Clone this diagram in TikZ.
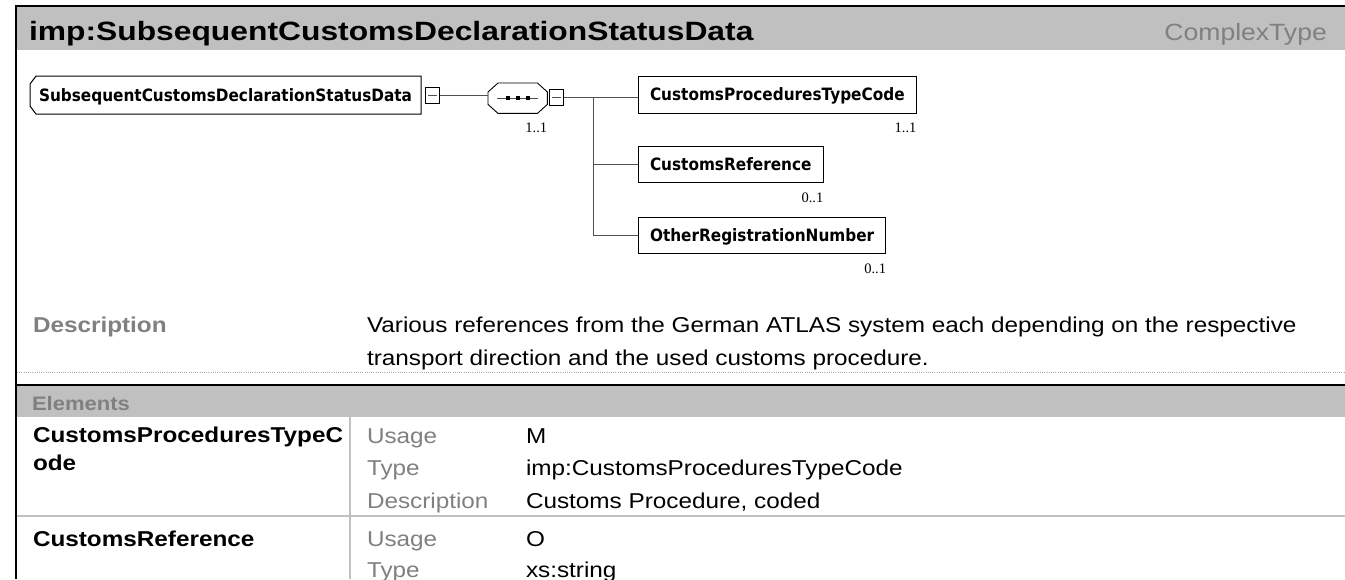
\documentclass[tikz,border=0pt]{standalone}
\usepackage{fontspec}
\newfontfamily\arialf[FakeStretch=1.13]{Liberation Sans}
\newfontfamily\titlef[FakeStretch=1.2]{Liberation Sans}
\newfontfamily\nodef[FakeStretch=0.9]{DejaVu Sans}
\newfontfamily\labf{Liberation Serif}
\usetikzlibrary{calc}
\definecolor{barGray}{HTML}{C0C0C0}
\definecolor{txtGray}{HTML}{808080}
\definecolor{sepGray}{HTML}{C0C0C0}
\definecolor{dotGray}{HTML}{A8A8A8}
\definecolor{connGray}{HTML}{505050}
\begin{document}
\begin{tikzpicture}[x=1pt,y=-1pt,
  txt/.style={anchor=base west, inner sep=0pt, outer sep=0pt},
  big/.style={font=\arialf\fontsize{21.5}{24}\selectfont},
  bigb/.style={font=\arialf\bfseries\fontsize{21.5}{24}\selectfont},
  elbox/.style={draw=black, line width=1pt, inner xsep=11.5pt, inner ysep=0pt,
    minimum height=37pt, text height=12.4pt, text depth=0pt,
    font=\nodef\bfseries\fontsize{17}{20}\selectfont, anchor=north west},
  boxline/.style={draw=black, line width=1pt},
  minusbox/.style={draw=black, line width=0.8pt, minimum width=14pt, minimum height=16pt,
    inner sep=0pt, anchor=north west},
  minusbar/.style={draw=connGray, line width=0.8pt},
  conn/.style={draw=connGray, line width=1pt},
  mult/.style={inner sep=0pt, anchor=base east, font=\labf\fontsize{14.5}{16}\selectfont},
  frame/.style={draw=black, line width=2pt},
  sep/.style={draw=sepGray, line width=2pt}]
\useasboundingbox (0,0) rectangle (1345,579);
\fill[white] (0,0) rectangle (1345,579);
% title bar
\fill[barGray] (17,7) rectangle (1345,50);
\draw[frame] (16,579) -- (16,6) -- (1345,6);
\node[txt, font=\titlef\bfseries\fontsize{26.5}{29}\selectfont] (title) at (29,40.5)
  {imp:SubsequentCustomsDeclarationStatusData};
\node[anchor=base east, inner sep=0pt, text=txtGray, font=\arialf\fontsize{23.5}{26}\selectfont]
  (ctype) at (1327,40.5) {ComplexType};
% diagram: root element
\node[elbox, draw=none, inner xsep=8.5pt] (root) at (30,76) {SubsequentCustomsDeclarationStatusData};
\draw[boxline] ([xshift=6pt]root.north west) -- (root.north east) -- (root.south east)
  -- ([xshift=6pt]root.south west) -- ([yshift=8pt]root.south west)
  -- ([yshift=-8pt]root.north west) -- cycle;
\node[minusbox] (rm) at (425,87) {};
\draw[minusbar] ([xshift=3pt]rm.west) -- ([xshift=-3pt]rm.east);
% sequence compositor
\node[draw=none, minimum width=59pt, minimum height=30pt, inner sep=0pt, anchor=north west]
  (comp) at (488,83) {};
\draw[boxline, line width=0.9pt] ([xshift=10pt]comp.north west) -- ([xshift=-10pt]comp.north east)
  -- ([yshift=-9pt]comp.north east) -- ([yshift=9pt]comp.south east)
  -- ([xshift=-10pt]comp.south east) -- ([xshift=10pt]comp.south west)
  -- ([yshift=9pt]comp.south west) -- ([yshift=-9pt]comp.north west) -- cycle;
\draw[conn] ([xshift=9pt]comp.west) -- ([xshift=-9pt]comp.east);
\foreach \dx in {-10,0,10} {
  \fill[black] ($(comp.center)+(\dx-1.8,-1.8)$) rectangle ($(comp.center)+(\dx+1.8,1.8)$);
}
\node[minusbox] (cm) at (549,89) {};
\draw[minusbar] ([xshift=3pt]cm.west) -- ([xshift=-3pt]cm.east);
\node[mult] (mcomp) at ($(comp.south east)+(0,19)$) {1..1};
\draw[conn] (rm.east) -- (rm.east -| comp.west);
% children
\node[elbox] (cptc) at (638,75.5) {CustomsProceduresTypeCode};
\node[elbox, minimum height=36pt] (cref) at (638,146) {CustomsReference};
\node[elbox, minimum height=36pt] (orn) at (638,217) {OtherRegistrationNumber};
\node[mult] (mcptc) at ($(cptc.south east)+(0,19)$) {1..1};
\node[mult] (mcref) at ($(cref.south east)+(0,19)$) {0..1};
\node[mult] (morn) at ($(orn.south east)+(0,19)$) {0..1};
\coordinate (jn) at (593,97);
\draw[conn] (cm.east) -- (cm.east -| cptc.west);
\draw[conn] (jn) -- (jn |- orn.west) -- (orn.west);
\draw[conn] (jn |- cref.west) -- (cref.west);
% description row
\node[txt, font=\arialf\bfseries\fontsize{21.5}{24}\selectfont, text=txtGray] (dlab) at (33,332) {Description};
\node[txt, big] (d1) at (367,332) {Various references from the German ATLAS system each depending on the respective};
\node[txt, big] (d2) at (367,365) {transport direction and the used customs procedure.};
\draw[dotGray, line width=1pt, dash pattern=on 1pt off 1.2pt] (17,372) -- (1345,372);
% elements section
\draw[frame] (16,385) -- (1345,385);
\fill[barGray] (17,386) rectangle (1345,417);
\node[txt, font=\arialf\bfseries\fontsize{19.5}{22}\selectfont, text=txtGray] (elh) at (32,410) {Elements};
\draw[sep] (17,516) -- (1345,516);
\draw[sep] (350,417) -- (350,579);
\node[txt, bigb] (n1a) at (33,442) {CustomsProceduresTypeC};
\node[txt, bigb] (n1b) at (33,470) {ode};
\node[txt, big, text=txtGray] (u1) at (367,443) {Usage};
\node[txt, big, text=txtGray] (t1) at (367,475) {Type};
\node[txt, big, text=txtGray] (de1) at (367,508) {Description};
\node[txt, big] (vu1) at (526,443) {M};
\node[txt, big] (vt1) at (526,475) {imp:CustomsProceduresTypeCode};
\node[txt, big] (vd1) at (526,508) {Customs Procedure, coded};
\node[txt, bigb] (n2) at (33,546) {CustomsReference};
\node[txt, big, text=txtGray] (u2) at (367,546) {Usage};
\node[txt, big, text=txtGray] (t2) at (367,577) {Type};
\node[txt, big] (vu2) at (526,546) {O};
\node[txt, big] (vt2) at (526,577) {xs:string};
\end{tikzpicture}
\end{document}
